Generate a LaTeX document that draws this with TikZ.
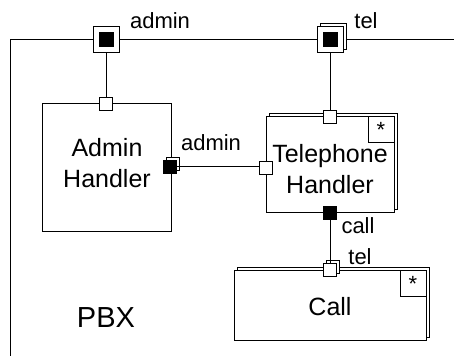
\documentclass[tikz,border=0pt]{standalone}
\usepackage{fontspec}
\setmainfont{Liberation Sans}
\usetikzlibrary{shadows}

\begin{document}
\begin{tikzpicture}[x=0.5pt,y=-0.5pt, line width=0.5pt,
  every node/.style={inner sep=0pt},
  port/.style={draw,fill=white,minimum size=6.5pt},
  blackport/.style={port,fill=black},
  relay/.style={draw,fill=white,minimum size=13pt},
  many/.style={copy shadow={shadow xshift=1.5pt,shadow yshift=1.5pt,fill=white,draw=black}},
  part/.style={draw,fill=white},
  partname/.style={align=center,font=\fontsize{12.5}{15.5}\selectfont},
  mult/.style={draw,minimum size=13pt,anchor=north east,font=\fontsize{11}{13}\selectfont},
  lbl/.style={font=\fontsize{11}{13}\selectfont}]
  \useasboundingbox (0,0) rectangle (454,356);
  \draw (10,356) -- (10,40) -- (454,40);
  \node[part,minimum width=64.5pt,minimum height=64pt] (admin) at (106.5,168) {};
  \node[partname] (adminName) at (107,163) {Admin\\Handler};
  \node[part,many,minimum width=64pt,minimum height=48pt] (tel) at (330,165) {};
  \node[mult] (telm) at (tel.north east) {*};
  \node[partname] (telName) at (330,169) {Telephone\\Handler};
  \node[part,many,minimum width=96pt,minimum height=35pt] (call) at (330,306) {};
  \node[mult] (callm) at (call.north east) {*};
  \node[partname] (callName) at (330,307) {Call};
  \node[relay] (pAdmin) at (106,40) {};
  \node[blackport,minimum size=7pt] at (pAdmin) {};
  \node[relay,many] (pTel) at (330,40) {};
  \node[blackport,minimum size=7pt] at (pTel) {};
  \node[port] (adminTop) at (106,104) {};
  \node[blackport,many] (adminRight) at (170,167) {};
  \node[port] (telLeft) at (266,168) {};
  \node[port] (telTop) at (330,117) {};
  \node[blackport] (telCall) at (330,213) {};
  \node[port,many] (callTel) at (330,270) {};
  \draw (pAdmin) -- (adminTop);
  \draw (pTel) -- (telTop);
  \draw (adminRight) -- (adminRight-|telLeft.west);
  \draw (telCall) -- (callTel);
  \node[lbl] (lAdmin) at (160,21) {admin};
  \node[lbl] (lTel) at (366,21) {tel};
  \node[lbl] (lAdmin2) at (211,143) {admin};
  \node[lbl] (lCall) at (358,226) {call};
  \node[lbl] (lTel2) at (360,257) {tel};
  \node[font=\fontsize{14.5}{17}\selectfont] (pbx) at (106,318) {PBX};
\end{tikzpicture}
\end{document}
